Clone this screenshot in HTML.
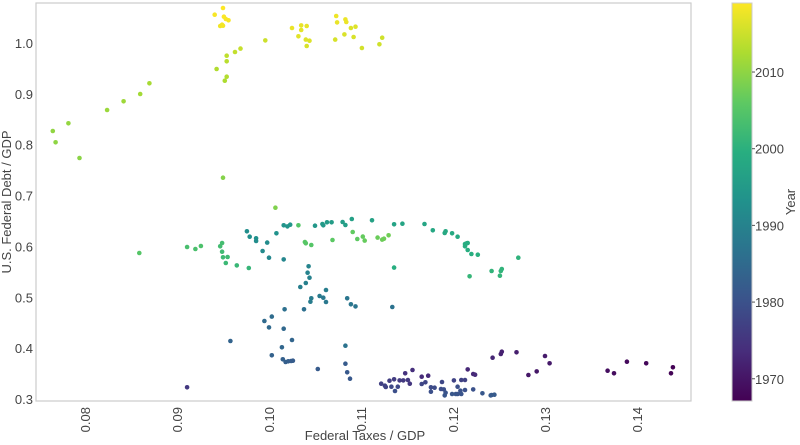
<!DOCTYPE html>
<html><head><meta charset="utf-8"><style>
body{margin:0;background:#fff;}
svg{display:block;font-family:"Liberation Sans","DejaVu Sans",sans-serif;}
</style></head><body>
<svg id="chart" width="800" height="445">
<defs><linearGradient id="vir" x1="0" y1="1" x2="0" y2="0">
<stop offset="0" stop-color="#440154"/><stop offset="0.125" stop-color="#472d7b"/><stop offset="0.25" stop-color="#3b528b"/><stop offset="0.375" stop-color="#2c728e"/><stop offset="0.5" stop-color="#21918c"/><stop offset="0.625" stop-color="#28ae80"/><stop offset="0.75" stop-color="#5ec962"/><stop offset="0.875" stop-color="#addc30"/><stop offset="1" stop-color="#fde725"/></linearGradient></defs>
<g id="plot"></g>
</svg>
<script>
const taxes=[0.0941,0.0950,0.0951,0.0953,0.0956,0.0949,0.0947,0.0950,0.1025,0.1035,0.1041,0.1035,0.1032,0.1040,0.1044,0.1041,0.0996,0.1073,0.1083,0.1084,0.1074,0.1094,0.1089,0.1082,0.1092,0.1072,0.1101,0.1123,0.1120,
0.0969,0.0963,0.0954,0.0954,0.0943,0.0954,0.0952,0.0870,0.0860,0.0842,0.0824,0.0782,0.0765,0.0768,0.0794,0.0950,0.1007,0.0859,
0.0911,0.0920,0.0926,0.0949,0.0947,0.0949,0.0950,0.0955,0.0953,0.0965,0.0978,
0.0976,0.0979,0.0986,0.0986,0.0998,0.1008,0.0993,0.1000,0.1016,0.1016,0.1020,0.1023,0.1032,0.1050,0.1058,0.1059,0.1063,0.1068,0.1080,0.1083,0.1090,0.1112,
0.1039,0.1040,0.1046,0.1069,0.1091,0.1096,0.1102,0.1104,0.1118,0.1123,0.1125,0.1130,0.1136,
0.1043,0.1042,0.1044,0.1040,0.1034,0.1046,0.1045,0.1055,0.1059,0.1062,0.1062,0.1085,0.1089,0.1094,0.1134,0.1017,0.1038,
0.0995,0.1003,0.1000,0.1016,0.1025,0.0958,0.1014,0.1003,0.1015,0.1018,0.1021,0.1024,0.1026,0.1053,0.1083,0.1083,0.1085,0.1088,0.0911,
0.1122,0.1126,0.1127,0.1131,0.1136,0.1142,0.1146,0.1151,0.1153,0.1148,0.1156,0.1133,0.1140,0.1137,0.1166,0.1173,0.1166,0.1170,0.1176,0.1176,0.1180,
0.1136,0.1145,0.1169,0.1178,0.1191,0.1192,0.1199,0.1205,0.1213,0.1215,0.1216,0.1213,0.1216,0.1220,0.1227,0.1271,0.1242,0.1251,0.1252,0.1253,0.1218,
0.1188,0.1187,0.1190,0.1192,0.1191,0.1199,0.1201,0.1203,0.1205,0.1205,0.1208,0.1209,0.1209,0.1213,0.1213,0.1216,0.1222,0.1224,0.1222,0.1232,0.1241,0.1242,0.1245,0.1243,0.1252,0.1253,0.1269,0.1300,0.1305,0.1282,0.1291,0.1368,0.1375,0.1389,0.1410,0.1437,0.1439];
const debts=[1.0557,1.0688,1.0518,1.0472,1.0446,1.0360,1.0334,1.0341,1.0295,1.0347,1.0334,1.0256,1.0131,1.0066,1.0046,0.9941,1.0052,1.0531,1.0465,1.0413,1.0406,1.0321,1.0295,1.0170,1.0118,1.0066,0.9902,1.0105,0.9974,
0.9889,0.9823,0.9751,0.9640,0.9489,0.9338,0.9259,0.9207,0.8997,0.8853,0.8683,0.8421,0.8270,0.8047,0.7739,0.7352,0.6762,0.5871,
0.5989,0.5950,0.6009,0.6068,0.6003,0.5897,0.5786,0.5792,0.5674,0.5628,0.5577,
0.6297,0.6192,0.6160,0.6107,0.6075,0.6258,0.5910,0.5779,0.5746,0.6415,0.6395,0.6428,0.6415,0.6408,0.6441,0.6415,0.6474,0.6474,0.6481,0.6422,0.6540,0.6513,
0.6088,0.6062,0.6029,0.6127,0.6284,0.6147,0.6193,0.6114,0.6173,0.6134,0.6153,0.6219,0.5583,
0.5609,0.5484,0.5386,0.5281,0.5203,0.4980,0.4914,0.5026,0.4993,0.5144,0.4908,0.4980,0.4862,0.4822,0.4809,0.4764,0.4764,
0.4534,0.4620,0.4409,0.4383,0.4160,0.4140,0.4016,0.3859,0.3780,0.3728,0.3741,0.3747,0.3754,0.3590,0.4049,0.3695,0.3525,0.3400,0.3230,
0.3302,0.3262,0.3236,0.3361,0.3387,0.3367,0.3367,0.3374,0.3302,0.3505,0.3570,0.3243,0.3243,0.3157,0.3439,0.3459,0.3295,0.3328,0.3230,0.3144,0.3223,
0.6435,0.6448,0.6441,0.6317,0.6264,0.6297,0.6258,0.6192,0.6048,0.6062,0.6068,0.6002,0.5930,0.5851,0.5838,0.5779,0.5517,0.5425,0.5517,0.5556,0.5412,
0.3334,0.3197,0.3190,0.3125,0.3072,0.3099,0.3367,0.3099,0.3099,0.3243,0.3164,0.3099,0.3374,0.3374,0.3177,0.3583,0.3492,0.3479,0.3190,0.3112,0.3072,0.3079,0.3085,0.3813,0.3885,0.3931,0.3918,0.3846,0.3702,0.3472,0.3544,0.3557,0.3505,0.3734,0.3702,0.3505,0.3623];
const years=[2018.5,2019,2018.8,2018.7,2018.6,2018.2,2018,2018.3,2017.5,2017.3,2017.2,2017,2016.8,2016.5,2016.3,2016,2015,2017.8,2017.6,2017.5,2017.4,2016.5,2016.4,2016.2,2016,2015.8,2015.5,2015.2,2015.3,
2014.5,2014.3,2014,2013.5,2012.8,2013,2012.5,2012,2011.7,2011.3,2011,2010.5,2010.2,2010,2009.7,2009.2,2008.8,2005,
2003.5,2003.7,2004,2003,2002.8,2002.5,2002.3,2002.4,2002,2001.7,2001.3,
1992.5,1992.7,1993,1992.3,1992,1993.3,1991.5,1991,1990.8,1993.7,1994,1994.2,2005,1994.5,1995,1994.8,1995.3,1995.5,1995.8,1996,1996.3,1996.6,
2005.3,2005.2,2005,2005.7,2006.2,2006,2006.5,2006.7,2007,2007.2,2007.3,2007.6,1999.5,
1990.3,1990,1989.8,1989.5,1989,1988.5,1988.7,1988.3,1988,1988.8,1987.8,1987.5,1987.3,1987,1986.5,1986.2,1986,
1985,1985.3,1984.8,1984.5,1984,1983.5,1984.2,1983.3,1983,1982.8,1982.6,1982.4,1982.2,1982,1986.7,1981.8,1981.5,1981.2,1975.5,
1977,1977.2,1977.4,1976.5,1976.2,1976,1975.8,1975.6,1975.3,1974.5,1974,1978.5,1978.3,1979.5,1973.5,1973.2,1978,1977.8,1978.8,1979.8,1979,
1997.1,1997.2,1997.6,1998,1998.3,1998.2,1998.5,1998.7,1999,1999,1999,1999.2,1999.4,1999.6,1999.8,2000.5,2000.8,2001,2000.9,2000.7,2001.2,
1978.2,1979.2,1979.5,1980.5,1980.8,1981,1977.5,1980.9,1980.6,1979.7,1980.2,1980.4,1977.3,1977.1,1979.9,1972.8,1973,1973.3,1980.1,1981.3,1981.6,1981.7,1981.8,1972.5,1972,1971.8,1971.5,1971,1970.8,1970.5,1970.3,1969,1968.8,1968.5,1968,1967.5,1967.3];
const xTicks=[0.08,0.09,0.10,0.11,0.12,0.13,0.14];
const xTickLabels=["0.08","0.09","0.10","0.11","0.12","0.13","0.14"];
const yTicks=[0.3,0.4,0.5,0.6,0.7,0.8,0.9,1.0];
const yTickLabels=["0.3","0.4","0.5","0.6","0.7","0.8","0.9","1.0"];
const cTicks=[1970,1980,1990,2000,2010];
const cTickLabels=["1970","1980","1990","2000","2010"];

const L=36,R=691,T=3,B=401;
const X=v=>85+(v-0.08)*9200;
const Y=v=>43+(1.0-v)*508.6;
const CMIN=1967.1,CMAX=2019.0;
const CY=v=>B-(v-CMIN)/(CMAX-CMIN)*(B-T);
const stops=["#440154","#472d7b","#3b528b","#2c728e","#21918c","#28ae80","#5ec962","#addc30","#fde725"];
function hx(c){return [1,3,5].map(i=>parseInt(c.substr(i,2),16));}
function col(y){let t=Math.max(0,Math.min(1,(y-CMIN)/(CMAX-CMIN)))*8;let i=Math.min(7,Math.floor(t)),f=t-i;
 const a=hx(stops[i]),b=hx(stops[i+1]);return "rgb("+a.map((v,k)=>Math.round(v+(b[k]-v)*f)).join(",")+")";}
const NS="http://www.w3.org/2000/svg";
const g=document.getElementById('plot');
function mk(tag,attrs,parent){const e=document.createElementNS(NS,tag);for(const k in attrs)e.setAttribute(k,attrs[k]);(parent||g).appendChild(e);return e;}

const frame=mk('rect',{x:L,y:T,width:R-L,height:B-T,fill:'#fff',stroke:'#ccc','stroke-width':1.2});



const pts=mk('g',{});


for(let i=0;i<taxes.length;i++){
 const c=mk('circle',{cx:X(taxes[i]).toFixed(1),cy:Y(debts[i]).toFixed(1),r:2.3,fill:col(years[i])},pts);
 
 
}
xTicks.forEach((v,i)=>{
 const t=mk('text',{x:0,y:0,transform:`translate(${X(v)+5},${B+6}) rotate(-90)`,'text-anchor':'end','font-size':13,fill:'#444'});
 t.textContent=xTickLabels[i];
 
 
});
yTicks.forEach((v,i)=>{
 const t=mk('text',{x:33,y:Y(v)+5,'text-anchor':'end','font-size':13,fill:'#444'});
 t.textContent=yTickLabels[i];
 
 
});
const xl=mk('text',{x:365,y:440,'text-anchor':'middle','font-size':13,fill:'#444'});
xl.textContent='Federal Taxes / GDP';


const yl=mk('text',{x:0,y:0,transform:'translate(11,202) rotate(-90)','text-anchor':'middle','font-size':13,fill:'#444'});
yl.textContent='U.S. Federal Debt / GDP';



const cb=mk('rect',{x:732,y:T,width:20,height:B-T,fill:'url(#vir)',stroke:'#ccc','stroke-width':1});


cTicks.forEach((v,i)=>{
 mk('line',{x1:752,x2:755,y1:CY(v),y2:CY(v),stroke:'#555','stroke-width':1});
 const t=mk('text',{x:755,y:CY(v)+5,'font-size':13,fill:'#444'});
 t.textContent=cTickLabels[i];
 
 
});
const cl=mk('text',{x:0,y:0,transform:'translate(795,202) rotate(-90)','text-anchor':'middle','font-size':13,fill:'#444'});
cl.textContent='Year';


</script>
</body></html>
